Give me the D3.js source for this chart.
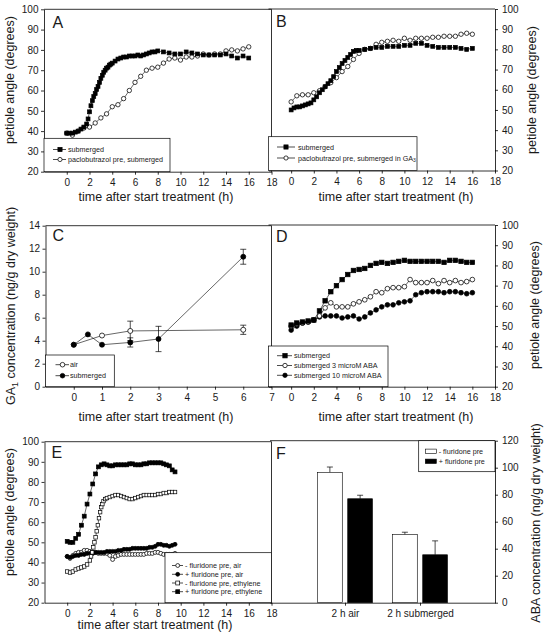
<!DOCTYPE html>
<html><head><meta charset="utf-8">
<script src="https://cdn.jsdelivr.net/npm/d3@7"></script>
<style>body{margin:0;background:#fff}svg{display:block}</style>
</head><body><script>
// ---------------- DATA ----------------
const xTitle = "time after start treatment (h)";
const angleTitle = "petiole angle (degrees)";
const angleTicks = [20,30,40,50,60,70,80,90,100];
const timeTicks = [0,2,4,6,8,10,12,14,16,18];

// Panel A
const aSubmerged = [[0,39],[0.25,39],[0.5,39],[0.75,39.5],[1,40],[1.25,41],[1.5,42],[1.75,43.5],
 [1.875,46],[2,49.5],[2.125,52.5],[2.25,55],[2.375,57],[2.5,58.5],[2.625,60.5],[2.75,62],[2.875,64],
 [3,66],[3.125,67.5],[3.25,69],[3.375,70],[3.5,71],[3.625,71.5],[3.75,72.5],[3.875,73],
 [4,73.5],[4.25,74.5],[4.5,75.5],[4.75,76],[5,76.5],[5.25,76.5],[5.5,77],[5.75,77],[6,77],[6.25,77.5],
 [6.5,77],[6.75,77.5],[7,78],[7.25,78.5],[7.5,79],[7.75,79],[8,79.5],
 [8.5,79],[9,78.5],[9.5,78],[10,78],[10.5,79],[11,78.5],[11.5,78],[12,77.5],[12.5,77.5],[13,77.5],
 [13.5,77.5],[14,78],[14.5,77],[15,76],[15.5,77],[16,76]];
const aPaclo = [[0,39],[0.5,38],[1,40],[1.5,41.5],[2,42],[2.5,44],[3,46.5],[3.5,48.5],[4,52],[4.5,53],
 [5,56],[5.5,60],[6,64],[6.5,67],[7,70],[7.5,71],[8,71.5],[8.5,73.5],[9,75.5],[9.5,76],[10,75],
 [10.5,76.5],[11,76.5],[11.5,77],[12,78],[12.5,77.5],[13,78],[13.5,78],[14,79.5],[14.5,80],[15,79.5],
 [15.5,80.5],[16,81.5]];
const aLegend = ["submerged","paclobutrazol pre, submerged"];

// Panel B
const bSubmerged = [[0,50],[0.25,51],[0.5,51.5],[0.75,51.5],[1,52],[1.25,52.5],[1.5,53],[1.75,53.5],
 [2,55],[2.25,56.5],[2.5,58.5],[2.75,60],[3,61.5],[3.25,63],[3.5,64.5],[3.75,66.5],[4,69],[4.25,71],
 [4.5,73],[4.75,74.5],[5,76],[5.25,77.5],[5.5,79],[5.75,79.5],[6,79.5],[6.5,80],[7,80.5],[7.5,81],
 [8,81],[8.5,81.5],[9,81.5],[9.5,81.5],[10,82],[10.5,82],[11,83],[11.5,83],[12,82],[12.5,81.5],
 [13,81],[13.5,81],[14,81],[14.5,81],[15,80.5],[15.5,80],[16,80.5]];
const bPacloGA = [[0,54],[0.5,57],[1,57.5],[1.5,57.5],[2,58.5],[2.5,59.5],[3,61.5],[3.5,63.5],[4,66],
 [4.5,69],[5,71.5],[5.5,75],[6,78],[6.5,80],[7,80.5],[7.5,82.5],[8,83.5],[8.5,84],[9,84.5],[9.5,84],
 [10,85.5],[10.5,84.5],[11,85.5],[11.5,85.5],[12,85.5],[12.5,86],[13,86],[13.5,86.5],[14,86.5],
 [14.5,86.5],[15,87.5],[15.5,88],[16,87.5]];
const bLegend = ["submerged","paclobutrazol pre, submerged in GA|3"];

// Panel C  (GA1, ng/g dry weight)
const cTicksX = [0,1,2,3,4,5,6,7];
const cTicksY = [0,2,4,6,8,10,12,14];
const cAirTime = [0,1,2,6];
const cAirMean = [3.65,4.45,4.85,4.95];
const cAirErr  = [0,0,0.85,0.4];
const cSubTime = [0,0.5,1,2,3,6];
const cSubMean = [3.65,4.55,3.65,3.85,4.15,11.3];
const cSubErr  = [0,0,0,0.4,1.1,0.65];
const cLegend = ["air","submerged"];

// Panel D
const dTime = [0,0.5,1,1.5,2,2.5,3,3.5,4,4.5,5,5.5,6,6.5,7,7.5,8,8.5,9,9.5,10,10.5,11,11.5,12,12.5,13,13.5,14,14.5,15,15.5,16];
const dSubmerged = [50.5,51.5,52,52.5,53,57.5,62.5,67,70,73,75.5,77.5,78,78.5,80,81,81.5,81,81.5,82,82.5,82,82,82,82,82,82,81.5,82.5,82.5,82,81.5,81.5];
const dABA3  = [50,51,51.5,52,53,55,59,61.5,59.5,59.5,59.5,61,62,63,64.5,67,66.5,68.5,69,69,69.5,73,71.5,71.5,71.5,72.5,71,72.5,71.5,72.5,71.5,72,73];
const dABA10 = [48,50,51.5,52,53,54.5,55,55,55,54,54.5,55,53.5,54.5,56.5,58,59.5,60.5,60.5,61.5,62,62.5,65.5,66.5,67,67,67,66.5,67,67,66.5,66,66.5];
const dLegend = ["submerged","submerged 3 microM ABA","submerged 10 microM ABA"];

// Panel E
const eTime = [0,0.25,0.5,0.75,1,1.25,1.5,1.75,2,2.25,2.5,2.75,3,3.25,3.5,3.75,4,4.25,4.5,4.75,5,5.25,5.5,5.75,6,6.25,6.5,6.75,7,7.25,7.5,7.75,8,8.25,8.5,8.75,9,9.25,9.5];
const eMinusAir = [43,42,43.5,44.5,45,45,46,46,45.5,45,45,44.5,44.5,44.5,44.5,43.5,41.5,43,43.5,44,44,44,44,44,44,44,44,44,44.5,44.5,44.5,45,45,44.5,44,44,44,44,44.5];
const ePlusAir  = [43,42.5,43,43.5,43.5,44,44,44.5,44.5,44.5,45,45,45,45,45.5,45.5,45.5,45.5,46,46,46.5,46.5,46.5,47,47,47,47,47,47,47.5,47.5,48,49,49,48.5,48.5,48,48.5,49];
const ePlusEth  = [50.5,50,50,52,54,58.5,63,69,74,79,84,87.5,88.5,89,88.5,88,88,88.5,88.5,88.5,88.5,88.5,89,89,88.5,88.5,88.5,89,89,89.5,89.5,89.5,89.5,89.5,89,88.5,88,86,85];
const eMinusEth = [[0,35.5],[0.25,35],[0.5,35.5],[0.75,36.5],[1,37],[1.25,37.5],[1.5,38],[1.75,39],[2,41],
 [2.1,43],[2.2,45],[2.3,47.5],[2.4,50],[2.5,52.5],[2.6,55.5],[2.7,58.5],[2.8,62],[2.9,65],[3,67.5],
 [3.1,69],[3.2,70.5],[3.35,71.5],[3.5,72],[3.75,72.5],[4,73],[4.25,73.5],[4.5,73.5],[4.75,73],[5,72.5],
 [5.25,72],[5.5,71.5],[5.75,71.5],[6,72],[6.25,72.5],[6.5,73],[6.75,73.5],[7,73.5],[7.25,73.5],[7.5,73.5],
 [7.75,73.5],[8,74],[8.25,74],[8.5,74.5],[8.75,74.5],[9,75],[9.25,75],[9.5,75]];
const eLegend = ["- fluridone pre, air","+ fluridone pre, air","- fluridone pre, ethylene","+ fluridone pre, ethylene"];

// Panel F  (ABA, ng/g dry weight)
const fCategories = ["2 h air","2 h submerged"];
const fMinus = [96.5,50.5];
const fMinusErr = [4,1.7];
const fPlus = [77,35.5];
const fPlusErr = [2.6,10.3];
const fTicksY = [0,20,40,60,80,100,120];
const fLegend = ["- fluridone pre","+ fluridone pre"];

// ---------------- DRAWING ----------------
const FONT = "'Liberation Sans', Arial, Helvetica, sans-serif";
const svg = d3.select("body").append("svg").attr("width",544).attr("height",644)
  .style("font-family",FONT).style("background","#fff");
const SW = 0.8;
const TXT = "#1a1a1a";

function frame(x, y, side, xTicks, yTicks, xFmt, opts={}){
  const g = svg.append("g");
  const [x0,x1] = x.range(), [yb,yt] = y.range();
  g.append("line").attr("x1",x0).attr("x2",x1).attr("y1",yt).attr("y2",yt).attr("stroke","#000").attr("stroke-width",SW);
  if(opts.otherSide!==false){
    const vx = side==="left"? x1 : x0;
    g.append("line").attr("x1",vx).attr("x2",vx).attr("y1",yt).attr("y2",yb).attr("stroke","#000").attr("stroke-width",SW);
  }
  const xa = d3.axisBottom(x).tickValues(xTicks).tickSize(3).tickSizeOuter(0).tickPadding(4);
  if(xFmt) xa.tickFormat(xFmt);
  g.append("g").attr("transform",`translate(0,${yb})`).call(xa);
  const ya = (side==="left"? d3.axisLeft(y) : d3.axisRight(y)).tickValues(yTicks).tickSize(3).tickSizeOuter(0).tickPadding(side==="left"?2.5:4);
  g.append("g").attr("transform",`translate(${side==="left"?x0:x1},0)`).call(ya);
  g.selectAll("g").attr("font-family",FONT).attr("font-size",10);
  g.selectAll(".tick text").attr("fill",TXT);
  g.selectAll(".domain,.tick line").attr("stroke","#000").attr("stroke-width",SW);
  return g;
}

function marks(g, pts, shape, fill, size){
  if(shape==="square"){
    g.selectAll(null).data(pts).join("rect")
      .attr("x",d=>d[0]-size/2).attr("y",d=>d[1]-size/2).attr("width",size).attr("height",size)
      .attr("fill",fill).attr("stroke","#000").attr("stroke-width",0.7);
  } else {
    g.selectAll(null).data(pts).join("circle")
      .attr("cx",d=>d[0]).attr("cy",d=>d[1]).attr("r",size/2)
      .attr("fill",fill).attr("stroke","#000").attr("stroke-width",0.75);
  }
}

function series(g, x, y, data, shape, fill, size){
  const pts = data.map(d=>[x(d[0]), y(d[1])]);
  g.append("path").attr("d", d3.line()(pts)).attr("fill","none").attr("stroke","#000").attr("stroke-width",0.6);
  marks(g, pts, shape, fill, size);
}

function addLabel(sel, label, fs){
  const parts = label.split("|");
  sel.append("tspan").text(parts[0]);
  if(parts[1]) sel.append("tspan").attr("font-size",fs*0.7).attr("dy",fs*0.25).text(parts[1]);
}

function legend(box, rows, lineX, markX, textX, size){
  const g = svg.append("g");
  g.append("rect").attr("x",box[0]).attr("y",box[1]).attr("width",box[2]-box[0]).attr("height",box[3]-box[1])
    .attr("fill","#fff").attr("stroke","#000").attr("stroke-width",0.7);
  rows.forEach(r=>{
    g.append("line").attr("x1",lineX[0]).attr("x2",lineX[1]).attr("y1",r.y).attr("y2",r.y).attr("stroke","#000").attr("stroke-width",0.7);
    marks(g, [[markX, r.y]], r.shape, r.fill, size);
    const t = g.append("text").attr("x",textX).attr("y",r.y+2.5).attr("font-size",7.2).attr("fill",TXT);
    addLabel(t, r.label, 7.2);
  });
}

function text(x, y, str, fs, anchor="middle", rot=0){
  const t = svg.append("text").attr("transform",`translate(${x},${y}) rotate(${rot})`)
    .attr("text-anchor",anchor).attr("font-size",fs).attr("fill",TXT);
  return t.text(str);
}

function letter(x,y,s){ text(x,y,s,16,"start"); }

function titleGA(x,y,prefix,sub,rest,rot){
  const t = svg.append("text").attr("transform",`translate(${x},${y}) rotate(${rot})`)
    .attr("text-anchor","middle").attr("font-size",12.5).attr("fill",TXT);
  t.append("tspan").text(prefix);
  t.append("tspan").attr("font-size",9).attr("dy",3).text(sub);
  t.append("tspan").attr("dy",-3).text(rest);
}

// ---- Panel A ----
{
  const x = d3.scaleLinear([-2,18],[44,271.5]);
  const y = d3.scaleLinear([20,100],[171.7,9.3]);
  const g = frame(x,y,"left",timeTicks,angleTicks);
  series(g,x,y,aPaclo,"circle","#fff",4.4);
  series(g,x,y,aSubmerged,"square","#000",3.9);
  legend([44,138.3,170,171.7],[{y:149.5,shape:"square",fill:"#000",label:aLegend[0]},{y:159.5,shape:"circle",fill:"#fff",label:aLegend[1]}],[53,66],60,68,4.2);
  letter(52.5,28,"A");
  text(13.5,80,angleTitle,12.5,"middle",-90);
  text(156,201,xTitle,12.5);
}
// ---- Panel B ----
{
  const x = d3.scaleLinear([-2,18],[268.5,495]);
  const y = d3.scaleLinear([20,100],[170.5,9]);
  const g = frame(x,y,"right",timeTicks,angleTicks,null,{otherSide:false});
  series(g,x,y,bPacloGA,"circle","#fff",4.4);
  series(g,x,y,bSubmerged,"square","#000",3.9);
  legend([268.5,136.7,417,170.5],[{y:147,shape:"square",fill:"#000",label:bLegend[0]},{y:158,shape:"circle",fill:"#fff",label:bLegend[1]}],[277,295],286,298,4.2);
  letter(276,27,"B");
  text(535.5,90,angleTitle,12.5,"middle",-90);
  text(396,201,xTitle,12.5);
}
// ---- Panel C ----
{
  const x = d3.scaleLinear([-1,7],[45.5,271.5]);
  const y = d3.scaleLinear([0,14],[386.7,225.7]);
  const g = frame(x,y,"left",cTicksX,cTicksY);
  const airData = cAirTime.map((t,i)=>[t,cAirMean[i],cAirErr[i]]);
  const subData = cSubTime.map((t,i)=>[t,cSubMean[i],cSubErr[i]]);
  [airData, subData].forEach(ds=>{
    ds.filter(d=>d[2]>0).forEach(d=>{
      const cx=x(d[0]), yt=y(d[1]+d[2]), yb2=y(d[1]-d[2]);
      g.append("line").attr("x1",cx).attr("x2",cx).attr("y1",yt).attr("y2",yb2).attr("stroke","#000").attr("stroke-width",0.7);
      [yt,yb2].forEach(yy=>g.append("line").attr("x1",cx-3).attr("x2",cx+3).attr("y1",yy).attr("y2",yy).attr("stroke","#000").attr("stroke-width",0.7));
    });
  });
  series(g,x,y,airData,"circle","#fff",5);
  series(g,x,y,subData,"circle","#000",5);
  legend([45.5,355,114.3,386.7],[{y:364.7,shape:"circle",fill:"#fff",label:cLegend[0]},{y:375.7,shape:"circle",fill:"#000",label:cLegend[1]}],[55.5,69],62.5,70,4.6);
  letter(52.5,241,"C");
  titleGA(15,306,"GA","1"," concentration (ng/g dry weight)",-90);
  text(156,421,xTitle,12.5);
}
// ---- Panel D ----
{
  const x = d3.scaleLinear([-2,18],[268.5,495]);
  const y = d3.scaleLinear([20,100],[386.7,225]);
  const g = frame(x,y,"right",timeTicks,angleTicks,null,{otherSide:false});
  series(g,x,y,dTime.map((t,i)=>[t,dABA10[i]]),"circle","#000",4.7);
  series(g,x,y,dTime.map((t,i)=>[t,dABA3[i]]),"circle","#fff",4.7);
  series(g,x,y,dTime.map((t,i)=>[t,dSubmerged[i]]),"square","#000",4.5);
  legend([268.5,346,388,386.7],[{y:355.7,shape:"square",fill:"#000",label:dLegend[0]},{y:365.5,shape:"circle",fill:"#fff",label:dLegend[1]},{y:375.3,shape:"circle",fill:"#000",label:dLegend[2]}],[277,292],285,294,4.4);
  letter(276,242,"D");
  text(538.5,305,angleTitle,12.5,"middle",-90);
  text(396,421,xTitle,12.5);
}
// ---- Panel E ----
{
  const x = d3.scaleLinear([-2,18],[44.5,271.5]);
  const y = d3.scaleLinear([20,100],[602.7,441.7]);
  const g = frame(x,y,"left",timeTicks,angleTicks);
  series(g,x,y,eTime.map((t,i)=>[t,eMinusAir[i]]),"circle","#fff",4);
  series(g,x,y,eTime.map((t,i)=>[t,ePlusAir[i]]),"circle","#000",4);
  series(g,x,y,eMinusEth,"square","#fff",3.5);
  series(g,x,y,eTime.map((t,i)=>[t,ePlusEth[i]]),"square","#000",3.9);
  legend([165,552.7,271.5,602.7],[
    {y:565.5,shape:"circle",fill:"#fff",label:eLegend[0]},
    {y:574.3,shape:"circle",fill:"#000",label:eLegend[1]},
    {y:583,shape:"square",fill:"#fff",label:eLegend[2]},
    {y:591.7,shape:"square",fill:"#000",label:eLegend[3]}],[172,183],177.7,185,3.9);
  letter(51.5,458,"E");
  text(14,512,angleTitle,12.5,"middle",-90);
  text(155,629,xTitle,12.5);
}
// ---- Panel F ----
{
  const x = d3.scaleLinear([0,3],[270,495]);
  const y = d3.scaleLinear([0,120],[602.7,440.7]);
  const g = frame(x,y,"right",[1,2],fTicksY,(d)=>fCategories[d-1],{otherSide:false});
  const inner = d3.scaleBand(["minus","plus"],[-27.5,27.5]).paddingInner(0.18);
  const bars = [];
  fCategories.forEach((c,i)=>{
    bars.push({k:"minus",c:i+1,v:fMinus[i],e:fMinusErr[i],fill:"#fff"});
    bars.push({k:"plus",c:i+1,v:fPlus[i],e:fPlusErr[i],fill:"#000"});
  });
  bars.forEach(b=>{
    const bx = x(b.c)+inner(b.k), bw = inner.bandwidth(), cx = bx+bw/2;
    g.append("line").attr("x1",cx).attr("x2",cx).attr("y1",y(b.v)).attr("y2",y(b.v+b.e)).attr("stroke","#000").attr("stroke-width",0.7);
    g.append("line").attr("x1",cx-3).attr("x2",cx+3).attr("y1",y(b.v+b.e)).attr("y2",y(b.v+b.e)).attr("stroke","#000").attr("stroke-width",0.7);
    g.append("rect").attr("x",bx).attr("y",y(b.v)).attr("width",bw).attr("height",y(0)-y(b.v))
      .attr("fill",b.fill).attr("stroke","#000").attr("stroke-width",0.6);
  });
  const lg = svg.append("g");
  lg.append("rect").attr("x",418.7).attr("y",440.7).attr("width",495-418.7).attr("height",31).attr("fill","#fff").attr("stroke","#000").attr("stroke-width",0.7);
  [{y:451.3,fill:"#fff",label:fLegend[0]},{y:461.3,fill:"#000",label:fLegend[1]}].forEach(r=>{
    lg.append("rect").attr("x",425.3).attr("y",r.y-2.2).attr("width",11).attr("height",4.4).attr("fill",r.fill).attr("stroke","#000").attr("stroke-width",0.6);
    lg.append("text").attr("x",438.7).attr("y",r.y+2.5).attr("font-size",7.2).attr("fill",TXT).text(r.label);
  });
  letter(276,459,"F");
  text(540,523,"ABA concentration (ng/g dry weight)",12.5,"middle",-90);
}
</script></body></html>
